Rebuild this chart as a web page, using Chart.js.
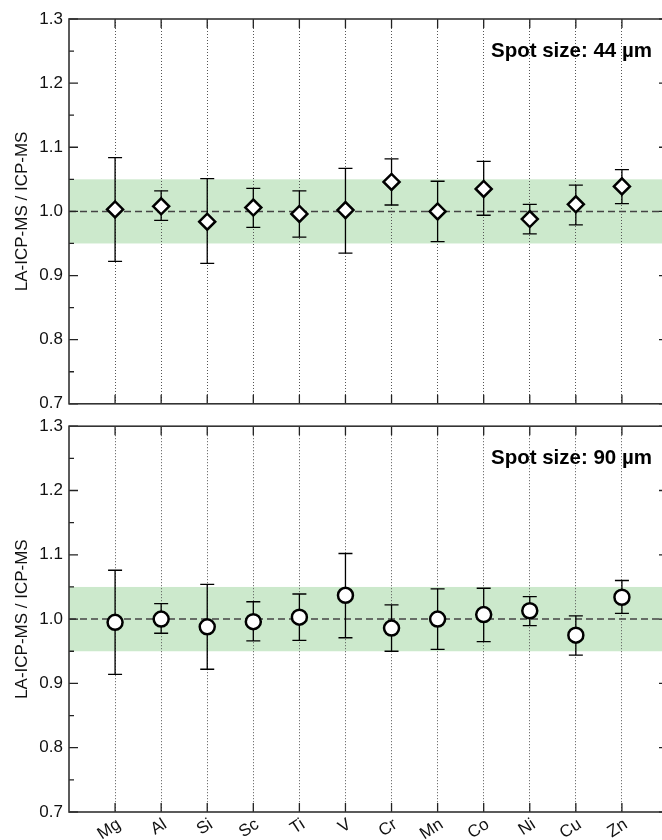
<!DOCTYPE html>
<html>
<head>
<meta charset="utf-8">
<script src="https://cdn.jsdelivr.net/npm/chart.js@4.4.1/dist/chart.umd.min.js"></script>
<style>
  html, body { margin: 0; padding: 0; background: #fff; overflow: hidden; }
  #wrap { position: relative; width: 662px; height: 840px; overflow: hidden; }
  canvas { position: absolute; left: 0; }
</style>
</head>
<body>
<div id="wrap">
  <canvas id="panel44" width="680" height="420" style="top:0"></canvas>
  <canvas id="panel90" width="680" height="430" style="top:410px"></canvas>
</div>
<script>
// element labels on the x axis
const elements = ['Mg', 'Al', 'Si', 'Sc', 'Ti', 'V', 'Cr', 'Mn', 'Co', 'Ni', 'Cu', 'Zn'];
const yTicks = [0.7, 0.8, 0.9, 1.0, 1.1, 1.2, 1.3];
const yMinorTicks = [0.75, 0.85, 0.95, 1.05, 1.15, 1.25];
const band = [0.95, 1.05];   // +-5 % agreement band
const refLine = 1.0;

// spot size 44 um (diamonds)
const ratio44 = [1.003, 1.008, 0.984, 1.006, 0.996, 1.002, 1.046, 1.000, 1.035, 0.988, 1.011, 1.039];
const upper44 = [1.084, 1.032, 1.051, 1.036, 1.032, 1.067, 1.082, 1.047, 1.078, 1.011, 1.041, 1.065];
const lower44 = [0.922, 0.986, 0.919, 0.975, 0.960, 0.935, 1.010, 0.953, 0.994, 0.965, 0.979, 1.012];

// spot size 90 um (circles)
const ratio90 = [0.995, 1.000, 0.988, 0.996, 1.003, 1.037, 0.986, 1.000, 1.007, 1.013, 0.975, 1.034];
const upper90 = [1.076, 1.024, 1.054, 1.027, 1.039, 1.102, 1.022, 1.047, 1.048, 1.035, 1.005, 1.060];
const lower90 = [0.914, 0.978, 0.922, 0.966, 0.967, 0.971, 0.950, 0.953, 0.965, 0.990, 0.944, 1.009];

const FONT = '"Liberation Sans", Arial, Helvetica, sans-serif';
const INK = '#111';

// draws band, reference line, error bars, frame ticks and panel text
const panelPlugin = {
  id: 'panel',
  beforeDraw(chart, args, o) {
    const { ctx, chartArea: a, scales: { y } } = chart;
    const yt = y.getPixelForValue(band[1]), yb = y.getPixelForValue(band[0]);
    ctx.save();
    ctx.fillStyle = '#cce9cc';
    ctx.fillRect(a.left, yt, a.right - a.left, yb - yt);
    ctx.restore();
  },
  beforeDatasetsDraw(chart, args, o) {
    const { ctx, chartArea: a, scales: { x, y } } = chart;
    ctx.save();
    // dashed line at 1.0
    const y1 = y.getPixelForValue(refLine);
    ctx.strokeStyle = '#444';
    ctx.lineWidth = 1.5;
    ctx.setLineDash([7, 4]);
    ctx.beginPath();
    ctx.moveTo(a.left, y1);
    ctx.lineTo(a.right, y1);
    ctx.stroke();
    ctx.setLineDash([]);
    // error bars
    ctx.strokeStyle = '#000';
    ctx.lineWidth = 1.3;
    o.lower.forEach((lo, i) => {
      const px = x.getPixelForValue(i + 1);
      const pl = y.getPixelForValue(lo), pu = y.getPixelForValue(o.upper[i]);
      ctx.beginPath();
      ctx.moveTo(px, pl); ctx.lineTo(px, pu);
      ctx.moveTo(px - 7, pl); ctx.lineTo(px + 7, pl);
      ctx.moveTo(px - 7, pu); ctx.lineTo(px + 7, pu);
      ctx.stroke();
    });
    ctx.restore();
  },
  afterDraw(chart, args, o) {
    const { ctx, chartArea: a, scales: { x, y } } = chart;
    ctx.save();
    ctx.strokeStyle = '#222';
    ctx.lineWidth = 1.3;
    ctx.beginPath();
    yTicks.forEach(v => {
      const py = y.getPixelForValue(v);
      ctx.moveTo(a.left, py); ctx.lineTo(a.left + 9, py);
      ctx.moveTo(a.right, py); ctx.lineTo(a.right - 9, py);
    });
    yMinorTicks.forEach(v => {
      const py = y.getPixelForValue(v);
      ctx.moveTo(a.left, py); ctx.lineTo(a.left + 5, py);
      ctx.moveTo(a.right, py); ctx.lineTo(a.right - 5, py);
    });
    elements.forEach((_, i) => {
      const px = x.getPixelForValue(i + 1);
      ctx.moveTo(px, a.top); ctx.lineTo(px, a.top + 9);
      ctx.moveTo(px, a.bottom); ctx.lineTo(px, a.bottom - 9);
    });
    ctx.stroke();
    // box
    ctx.lineWidth = 1.6;
    ctx.strokeStyle = '#333';
    ctx.strokeRect(a.left, a.top, a.right - a.left, a.bottom - a.top);
    // spot size label
    ctx.fillStyle = '#000';
    ctx.font = 'bold 20.5px ' + FONT;
    ctx.textAlign = 'right';
    ctx.textBaseline = 'alphabetic';
    ctx.fillText(o.spot, 652, a.top + 38);
    // rotated element names
    if (o.xLabels) {
      ctx.font = '17px ' + FONT;
      ctx.fillStyle = INK;
      ctx.textAlign = 'right';
      ctx.textBaseline = 'middle';
      elements.forEach((el, i) => {
        const px = x.getPixelForValue(i + 1);
        ctx.save();
        ctx.translate(px + 4, a.bottom + 11);
        ctx.rotate(-Math.PI / 5.5);
        ctx.fillText(el, 0, 0);
        ctx.restore();
      });
    }
    ctx.restore();
  }
};

function makePanel(id, ratio, lower, upper, marker, radius, spot, plotTop, axisHeight, xLabels) {
  const ctx = document.getElementById(id).getContext('2d');
  return new Chart(ctx, {
    type: 'scatter',
    data: {
      datasets: [{
        data: ratio.map((v, i) => ({ x: i + 1, y: v })),
        pointStyle: marker,
        pointRadius: radius,
        pointHoverRadius: radius,
        pointBackgroundColor: '#fff',
        pointBorderColor: '#000',
        pointBorderWidth: 2.5
      }]
    },
    options: {
      responsive: false,
      animation: false,
      events: [],
      layout: { autoPadding: false, padding: { top: plotTop, right: 12, left: 0, bottom: 0 } },
      plugins: {
        legend: { display: false },
        tooltip: { enabled: false },
        panel: { lower, upper, spot, xLabels }
      },
      scales: {
        x: {
          type: 'linear', min: 0, max: 13,
          afterBuildTicks: s => { s.ticks = elements.map((_, i) => ({ value: i + 1 })); },
          afterFit: s => { s.height = axisHeight; },
          ticks: { display: false },
          grid: { color: '#555', lineWidth: 1, drawTicks: false },
          border: { display: false, dash: [1, 2] }
        },
        y: {
          min: 0.7, max: 1.3,
          afterBuildTicks: s => { s.ticks = yTicks.map(v => ({ value: v })); },
          afterFit: s => { s.width = 69; },
          ticks: {
            padding: 6, color: INK,
            font: { family: FONT, size: 17 },
            callback: v => v.toFixed(1)
          },
          grid: { display: false, drawTicks: false },
          border: { display: false },
          title: {
            display: true, text: 'LA-ICP-MS / ICP-MS', color: INK,
            font: { family: FONT, size: 17 },
            padding: { top: 12, bottom: 0 }
          }
        }
      }
    },
    plugins: [panelPlugin]
  });
}

makePanel('panel44', ratio44, lower44, upper44, 'rectRot', 8, 'Spot size: 44 µm', 19, 15, false);
makePanel('panel90', ratio90, lower90, upper90, 'circle', 7.5, 'Spot size: 90 µm', 16, 28, true);
</script>
</body>
</html>
